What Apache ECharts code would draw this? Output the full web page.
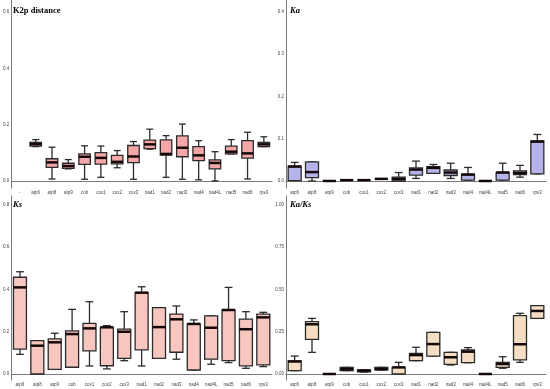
<!DOCTYPE html>
<html><head><meta charset="utf-8">
<script src="https://cdn.jsdelivr.net/npm/echarts@6/dist/echarts.min.js"></script>
<style>html,body{margin:0;padding:0;background:#fff}#c{width:550px;height:389px}</style>
</head><body><div id="c"></div>
<script>
// ---- data ----
const genes = ['atp6','atp8','atp9','cob','cox1','cox2','cox3','nad1','nad2','nad3','nad4','nad4L','nad5','nad6','rps3'];
const k2pCategories = ['-'].concat(genes);   // reference panel shows an extra leading label
// each box: [min, Q1, median, Q3, max]
const k2pBoxes = [
  [0.122,0.124,0.131,0.137,0.147],
  [0.007,0.048,0.066,0.079,0.120],
  [0.043,0.045,0.053,0.063,0.076],
  [0.006,0.059,0.086,0.096,0.125],
  [0.013,0.060,0.082,0.101,0.124],
  [0.047,0.061,0.068,0.091,0.108],
  [0.006,0.065,0.087,0.126,0.140],
  [0.113,0.115,0.130,0.145,0.184],
  [0.013,0.092,0.096,0.146,0.161],
  [0.006,0.086,0.118,0.160,0.202],
  [0.004,0.072,0.091,0.122,0.143],
  [0.000,0.043,0.064,0.075,0.104],
  [0.096,0.096,0.104,0.124,0.147],
  [0.007,0.081,0.098,0.143,0.173],
  [0.122,0.122,0.130,0.137,0.157]
];
const kaBoxes = [
  [0.001,0.001,0.034,0.035,0.044],
  [0.000,0.008,0.021,0.045,0.045],
  [0.000,0.000,0.000,0.000,0.000],
  [0.002,0.002,0.002,0.002,0.002],
  [0.002,0.002,0.002,0.002,0.002],
  [0.005,0.005,0.005,0.005,0.005],
  [0.000,0.000,0.005,0.009,0.020],
  [0.006,0.014,0.027,0.031,0.047],
  [0.018,0.018,0.031,0.034,0.039],
  [0.006,0.013,0.020,0.026,0.042],
  [0.002,0.002,0.015,0.016,0.032],
  [0.000,0.000,0.000,0.000,0.000],
  [0.002,0.002,0.020,0.020,0.042],
  [0.009,0.015,0.019,0.024,0.037],
  [0.017,0.017,0.093,0.095,0.110]
];
const ksBoxes = [
  [0.093,0.118,0.410,0.458,0.484],
  [0.000,0.000,0.134,0.158,0.158],
  [0.022,0.022,0.150,0.166,0.193],
  [0.032,0.032,0.189,0.204,0.306],
  [0.038,0.109,0.216,0.240,0.342],
  [0.024,0.039,0.221,0.221,0.229],
  [0.063,0.074,0.200,0.212,0.295],
  [0.038,0.114,0.385,0.385,0.413],
  [0.074,0.074,0.222,0.314,0.314],
  [0.070,0.103,0.259,0.283,0.322],
  [0.019,0.019,0.237,0.237,0.256],
  [0.046,0.070,0.219,0.275,0.275],
  [0.054,0.063,0.303,0.303,0.410],
  [0.027,0.038,0.212,0.260,0.295],
  [0.035,0.043,0.268,0.283,0.292]
];
const kaksBoxes = [
  [0.020,0.020,0.074,0.077,0.106],
  [0.128,0.205,0.294,0.310,0.329],
  [0.000,0.000,0.000,0.000,0.000],
  [0.020,0.020,0.029,0.039,0.039],
  [0.012,0.012,0.020,0.024,0.024],
  [0.024,0.024,0.029,0.039,0.039],
  [0.000,0.000,0.039,0.039,0.069],
  [0.079,0.079,0.112,0.122,0.158],
  [0.106,0.106,0.177,0.246,0.246],
  [0.053,0.057,0.099,0.128,0.128],
  [0.067,0.067,0.132,0.142,0.156],
  [0.000,0.000,0.000,0.000,0.000],
  [0.034,0.039,0.059,0.069,0.102],
  [0.069,0.083,0.176,0.345,0.359],
  [0.329,0.329,0.373,0.404,0.404]
];
const k2pTicks = [0, 0.2, 0.4, 0.6];
const kaTicks = [0, 0.1, 0.2, 0.3, 0.4];
const ksTicks = [0, 0.2, 0.4, 0.6, 0.8];
const kaksTicks = [0, 0.25, 0.5, 0.75, 1.0];
const panelTitles = ['K2p distance', 'Ka', 'Ks', 'Ka/Ks'];

// ---- styling / layout ----
const panels = [
  {cats:k2pCategories, offset:1, boxes:k2pBoxes, ticks:k2pTicks, dec:1, min:-0.025, max:0.643, fill:'#F4A6A8', bw:11.5,
   grid:{left:11, top:0, width:261, height:188}, title:{left:13, top:6, italic:false}},
  {cats:genes, offset:0, boxes:kaBoxes, ticks:kaTicks, dec:1, min:-0.0166, max:0.428, fill:'#B6B3EB', bw:13,
   grid:{left:286, top:0, width:260, height:188}, title:{left:290, top:6, italic:true}},
  {cats:genes, offset:0, boxes:ksBoxes, ticks:ksTicks, dec:1, min:-0.0284, max:0.8426, fill:'#F7C6BF', bw:13,
   grid:{left:11, top:196, width:261, height:184}, title:{left:13, top:200, italic:true}},
  {cats:genes, offset:0, boxes:kaksBoxes, ticks:kaksTicks, dec:2, min:-0.0355, max:1.053, fill:'#F5DEC3', bw:13,
   grid:{left:286, top:196, width:260, height:184}, title:{left:290, top:200, italic:true}}
];

const axisColor = '#7a7a7a';
const lineCol = '#2b2b2b';
function makeRender(p) {
  return function (params, api) {
    const x = api.value(0);
    const pMin = api.coord([x, api.value(1)]);
    const pQ1 = api.coord([x, api.value(2)]);
    const pMed = api.coord([x, api.value(3)]);
    const pQ3 = api.coord([x, api.value(4)]);
    const pMax = api.coord([x, api.value(5)]);
    const cx = pMed[0];
    const hw = p.bw / 2, cw = p.bw * 0.3;
    const ls = {stroke: lineCol, lineWidth: 1.3};
    return {
      type: 'group',
      children: [
        {type:'line', shape:{x1:cx, y1:pQ1[1], x2:cx, y2:pMin[1]}, style:ls},
        {type:'line', shape:{x1:cx, y1:pQ3[1], x2:cx, y2:pMax[1]}, style:ls},
        {type:'line', shape:{x1:cx-cw, y1:pMin[1], x2:cx+cw, y2:pMin[1]}, style:ls},
        {type:'line', shape:{x1:cx-cw, y1:pMax[1], x2:cx+cw, y2:pMax[1]}, style:ls},
        {type:'rect', shape:{x:cx-hw, y:pQ3[1], width:p.bw, height:pQ1[1]-pQ3[1]},
          style:{fill:p.fill, stroke:lineCol, lineWidth:1.3}},
        {type:'line', shape:{x1:cx-hw, y1:pMed[1], x2:cx+hw, y2:pMed[1]},
          style:{stroke:'#140808', lineWidth:2.5}}
      ]
    };
  };
}

const option = {
  backgroundColor:'#fff',
  animation:false,
  title: panels.map((p,i)=>({
    text: panelTitles[i], left:p.title.left, top:p.title.top, padding:0,
    textStyle:{fontFamily:'Liberation Serif', fontWeight:'bold', fontStyle:p.title.italic?'italic':'normal', fontSize:8.5, color:'#000'}
  })),
  grid: panels.map(p=>Object.assign({containLabel:false}, p.grid)),
  xAxis: panels.map((p,i)=>({
    type:'category', gridIndex:i, data:p.cats, boundaryGap:true,
    axisLine:{lineStyle:{color:axisColor, width:1}},
    axisTick:{show:false},
    axisLabel:{fontSize:4.5, color:'#444', margin:2.5, interval:0, fontFamily:'Liberation Sans'},
    splitLine:{show:false}
  })),
  yAxis: panels.map((p,i)=>({
    type:'value', gridIndex:i, min:p.min, max:p.max,
    axisLine:{show:true, lineStyle:{color:axisColor, width:1}},
    axisTick:{show:false},
    splitLine:{show:false},
    axisLabel:{customValues:p.ticks, fontSize:4.5, color:'#444', margin:2, fontFamily:'Liberation Sans',
      formatter:(v)=>Number(v).toFixed(p.dec)}
  })),
  series: panels.map((p,i)=>({
    type:'custom', xAxisIndex:i, yAxisIndex:i,
    renderItem: makeRender(p),
    dimensions:['x','min','Q1','median','Q3','max'],
    encode:{x:0, y:[1,2,3,4,5]},
    data:p.boxes.map((b,j)=>[p.offset+j].concat(b)),
    emphasis:{disabled:true}
  }))
};
const chart = echarts.init(document.getElementById('c'), null, {renderer:'canvas'});
chart.setOption(option);
</script>
</body></html>
